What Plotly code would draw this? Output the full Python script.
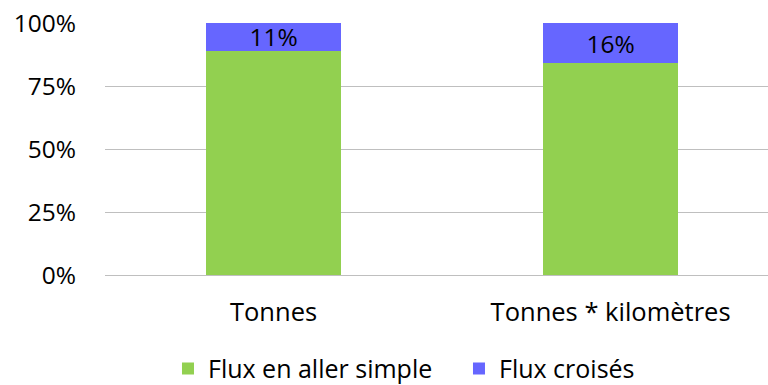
import plotly.graph_objects as go

# Share of transported volume by flow type
categories = ["Tonnes", "Tonnes * kilomètres"]
aller_simple = [89, 84]
croises = [11, 16]
y_ticks = [0, 25, 50, 75, 100]
y_tick_labels = ["0%", "25%", "50%", "75%", "100%"]

FONT = "'Open Sans', sans-serif"
FS = 24.5
GREEN = "#92D050"
BLUE = "#6666FF"

fig = go.Figure()
fig.add_trace(go.Bar(
    x=categories, y=aller_simple, name="Flux en aller simple",
    marker=dict(color=GREEN, line=dict(width=0)), width=0.4,
))
fig.add_trace(go.Bar(
    x=categories, y=croises, name="Flux croisés",
    marker=dict(color=BLUE, line=dict(width=0)), width=0.4,
    text=[f"{v}%" for v in croises], textposition="inside",
    insidetextanchor="middle", textangle=0,
    textfont=dict(family=FONT, size=FS, color="black"),
))

fig.update_layout(
    barmode="stack",
    width=768, height=385,
    margin=dict(l=105, r=0, t=23, b=110, autoexpand=False),
    paper_bgcolor="white", plot_bgcolor="white",
    font=dict(family=FONT, size=FS, color="black"),
    uniformtext=dict(minsize=FS, mode="show"),
    showlegend=True,
    legend=dict(
        orientation="h", traceorder="normal",
        x=0.095, xanchor="left", y=-0.372, yanchor="middle",
        font=dict(family=FONT, size=25, color="black"),
        itemwidth=30, tracegroupgap=0, entrywidth=246,
    ),
    xaxis=dict(
        range=[-0.5, 1.467], showgrid=False, showline=False, ticks="",
        tickfont=dict(size=25.5), ticklabelstandoff=19, automargin=False,
    ),
    yaxis=dict(
        range=[0, 100], tickvals=y_ticks, ticktext=y_tick_labels,
        showgrid=True, gridcolor="#BFBFBF", gridwidth=1.3,
        zeroline=True, zerolinecolor="#BFBFBF", zerolinewidth=1.3,
        showline=False, ticks="", tickfont=dict(size=FS),
        ticklabelstandoff=28, automargin=False,
    ),
)

fig.write_html("out.html")
